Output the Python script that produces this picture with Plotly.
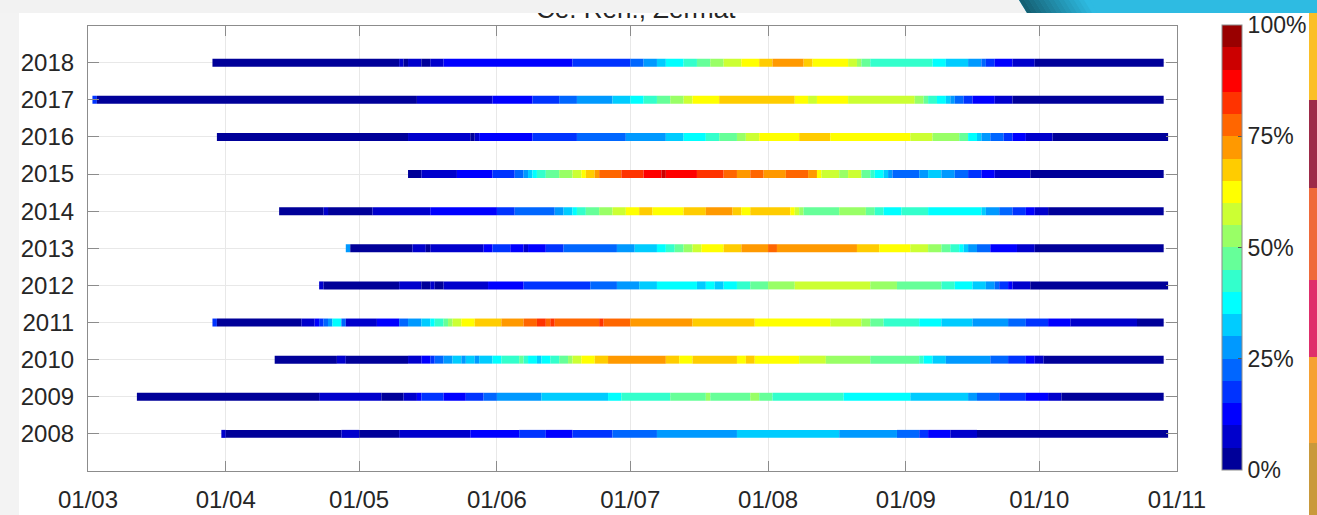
import plotly.graph_objects as go

# ---------------- data (days counted from 1 March; values in % ) ----------------
years = [2008, 2009, 2010, 2011, 2012, 2013, 2014, 2015, 2016, 2017, 2018]

y2018_start = [28, 70, 71, 72, 75, 77, 80, 109, 122, 125, 128, 130, 134, 137, 140, 143, 147, 151, 154, 161,
               163, 171, 173, 174, 176, 190, 193, 198, 201, 202, 204, 208, 213]
y2018_pct = [3, 8, 3, 8, 3, 8, 13, 18, 23, 28, 33, 38, 43, 48, 53, 58, 63, 68, 73, 68,
             63, 58, 53, 48, 43, 38, 33, 28, 23, 18, 13, 8, 3]
y2018_end = 242

y2017_start = [1, 2, 74, 91, 100, 106, 110, 118, 122, 125, 128, 131, 134, 136, 142, 159, 162, 164, 171, 186,
               188, 189, 191, 193, 194, 195, 197, 199, 204, 208]
y2017_pct = [18, 3, 8, 13, 18, 23, 28, 33, 38, 43, 48, 53, 58, 63, 68, 63, 58, 63, 58, 53,
             48, 43, 38, 33, 28, 23, 18, 13, 8, 3]
y2017_end = 242

y2016_start = [29, 72, 86, 87, 88, 100, 110, 121, 130, 134, 139, 142, 146, 148, 151, 160, 167, 185, 190, 196,
               198, 200, 201, 203, 206, 208, 211, 217]
y2016_pct = [3, 8, 3, 8, 13, 18, 23, 28, 33, 38, 43, 48, 53, 58, 63, 68, 63, 58, 53, 48,
             38, 33, 28, 23, 18, 13, 8, 3]
y2016_end = 243

y2015_start = [72, 75, 83, 91, 96, 98, 99, 100, 101, 103, 106, 109, 111, 112, 114, 115, 120, 125, 129, 130,
               137, 143, 146, 149, 152, 157, 162, 164, 165, 169, 171, 174, 176, 177, 179, 180, 181, 187, 189, 192,
               195, 198, 201, 204, 212]
y2015_pct = [3, 8, 13, 18, 23, 28, 33, 38, 43, 48, 53, 58, 63, 68, 73, 78, 83, 88, 93, 88,
             83, 78, 73, 78, 73, 78, 73, 63, 58, 53, 58, 48, 43, 38, 33, 28, 23, 28, 33, 28,
             23, 18, 13, 8, 3]
y2015_end = 242

y2014_start = [43, 53, 54, 64, 77, 92, 96, 105, 107, 109, 110, 112, 115, 118, 121, 124, 127, 134, 139, 145,
               147, 149, 158, 159, 160, 161, 169, 175, 177, 179, 183, 189, 201, 202, 205, 208, 211, 213, 216]
y2014_pct = [3, 8, 3, 8, 13, 18, 23, 28, 33, 38, 43, 48, 53, 58, 63, 68, 63, 68, 73, 68,
             63, 68, 63, 58, 53, 48, 53, 48, 43, 38, 43, 38, 33, 28, 23, 18, 13, 8, 3]
y2014_end = 242

y2013_start = [58, 59, 73, 76, 77, 89, 91, 95, 98, 99, 103, 107, 119, 123, 128, 130, 132, 134, 136, 138,
               143, 147, 153, 155, 173, 178, 185, 189, 192, 194, 196, 197, 198, 200, 203, 209, 213]
y2013_pct = [28, 3, 8, 3, 8, 13, 18, 13, 8, 13, 18, 23, 28, 33, 38, 43, 48, 53, 58, 63,
             68, 73, 78, 73, 68, 63, 58, 53, 48, 43, 38, 33, 28, 23, 13, 8, 3]
y2013_end = 242

y2012_start = [52, 53, 70, 75, 77, 78, 80, 90, 98, 113, 119, 124, 128, 137, 139, 141, 143, 146, 149, 153,
               159, 176, 182, 192, 195, 199, 202, 204, 205, 207, 208, 212]
y2012_pct = [8, 3, 8, 3, 8, 3, 8, 13, 18, 23, 28, 33, 38, 33, 38, 33, 38, 43, 48, 53,
             58, 53, 48, 43, 38, 33, 28, 23, 18, 13, 8, 3]
y2012_end = 243

y2011_start = [28, 29, 48, 51, 52, 53, 54, 55, 57, 58, 65, 70, 72, 75, 77, 78, 80, 81, 82, 84,
               87, 93, 98, 101, 103, 104, 105, 115, 116, 122, 136, 150, 167, 174, 176, 179, 187, 192, 199, 207,
               211, 216, 221, 236]
y2011_pct = [18, 3, 8, 13, 18, 23, 28, 38, 23, 8, 13, 23, 28, 33, 38, 43, 48, 53, 58, 63,
             68, 73, 78, 83, 78, 83, 78, 83, 78, 73, 68, 63, 58, 53, 48, 43, 38, 33, 28, 23,
             18, 13, 8, 3]
y2011_end = 242

y2010_start = [42, 56, 58, 72, 75, 77, 78, 80, 82, 84, 85, 87, 88, 91, 93, 97, 98, 99, 101, 102,
               104, 106, 108, 109, 111, 114, 117, 130, 133, 136, 146, 148, 150, 160, 166, 176, 187, 188, 190, 193,
               203, 207, 211, 213, 215]
y2010_pct = [3, 8, 3, 8, 13, 18, 23, 28, 33, 28, 33, 28, 33, 38, 43, 48, 43, 38, 33, 38,
             43, 48, 53, 58, 63, 68, 73, 68, 63, 68, 63, 68, 63, 58, 53, 48, 43, 38, 33, 28,
             23, 18, 13, 8, 3]
y2010_end = 242

y2009_start = [11, 52, 66, 71, 74, 75, 80, 85, 89, 92, 102, 117, 120, 131, 139, 140, 149, 151, 154, 170,
               185, 198, 200, 205, 211, 216, 219]
y2009_pct = [3, 8, 3, 8, 13, 18, 13, 18, 23, 28, 33, 38, 43, 48, 53, 48, 53, 48, 43, 38,
             33, 28, 23, 18, 13, 8, 3]
y2009_end = 242

y2008_start = [30, 31, 57, 61, 70, 86, 97, 103, 109, 118, 128, 146, 169, 182, 187, 189, 194, 200]
y2008_pct = [8, 3, 8, 3, 8, 13, 18, 13, 18, 23, 28, 33, 28, 23, 18, 13, 8, 3]
y2008_end = 243

month_ticks = [0, 31, 61, 92, 122, 153, 184, 214, 245]
month_labels = ["01/03", "01/04", "01/05", "01/06", "01/07", "01/08", "01/09", "01/10", "01/11"]
pct_ticks = [0, 25, 50, 75, 100]
pct_labels = ["0%", "25%", "50%", "75%", "100%"]
title_text = "Ce. Ren., Zermat"

jet20 = ["#000099", "#0000cc", "#0000ff", "#0033ff", "#0066ff", "#0099ff", "#00ccff", "#00ffff",
         "#33ffcc", "#66ff99", "#99ff66", "#ccff33", "#ffff00", "#ffcc00", "#ff9900", "#ff6600",
         "#ff3300", "#ff0000", "#cc0000", "#990000"]

series = [
    (2008, y2008_start, y2008_pct, y2008_end),
    (2009, y2009_start, y2009_pct, y2009_end),
    (2010, y2010_start, y2010_pct, y2010_end),
    (2011, y2011_start, y2011_pct, y2011_end),
    (2012, y2012_start, y2012_pct, y2012_end),
    (2013, y2013_start, y2013_pct, y2013_end),
    (2014, y2014_start, y2014_pct, y2014_end),
    (2015, y2015_start, y2015_pct, y2015_end),
    (2016, y2016_start, y2016_pct, y2016_end),
    (2017, y2017_start, y2017_pct, y2017_end),
    (2018, y2018_start, y2018_pct, y2018_end),
]

# ---------------- styling ----------------
FONT = "Liberation Sans, Arial, Helvetica, sans-serif"
AX = "#8c8c8c"
GRID = "#e8e8e8"
TXT = "#262626"
W, H = 1317, 515
ML, MR, MT, MB = 88, 140, 13, 44
PW, PH = W - ML - MR, H - MT - MB
MAIN_TOP = (H - MB - 25.6) / PH


def px(x):
    return (x - ML) / PW


def py(y):
    return (H - MB - y) / PH


colorscale = []
n = len(jet20)
for i, c in enumerate(jet20):
    colorscale.append([i / n, c])
    colorscale.append([(i + 1) / n, c])

fig = go.Figure()

for yr, starts, pcts, end in series:
    assert len(starts) == len(pcts)
    bounds = list(starts) + [end]
    widths = [b - a for a, b in zip(bounds[:-1], bounds[1:])]
    fig.add_trace(go.Bar(
        orientation="h",
        y=[yr] * len(starts),
        x=widths,
        base=starts,
        width=0.215,
        marker=dict(color=pcts, coloraxis="coloraxis", line=dict(width=0)),
        showlegend=False,
        hovertemplate="%{y}: %{marker.color}%<extra></extra>",
    ))

# title (its upper half sits under the slide band, as in the reference)
fig.add_trace(go.Scatter(
    x=[0.503], y=[1.15], mode="text", text=[title_text],
    textfont=dict(size=26, color=TXT, family=FONT),
    xaxis="x2", yaxis="y2", cliponaxis=True, showlegend=False, hoverinfo="skip",
))

shapes = []
# slide background decorations (band drawn above the title trace)
shapes.append(dict(type="rect", xref="paper", yref="paper", x0=px(0), x1=px(W), y0=py(13), y1=py(-2),
                   fillcolor="#f2f2f2", line=dict(width=0), layer="above"))
shapes.append(dict(type="rect", xref="paper", yref="paper", x0=px(0), x1=px(19), y0=py(H), y1=py(0),
                   fillcolor="#f3f3f3", line=dict(width=0), layer="below"))
# teal gradient band top-right
c0 = (0x15, 0x60, 0x73)
c1 = (0x2e, 0xbb, 0xe2)
shapes.append(dict(type="path", xref="paper", yref="paper",
                   path=f"M{px(1019)},{py(0)} L{px(W)},{py(0)} L{px(W)},{py(13)} L{px(1027)},{py(13)} Z",
                   fillcolor="#2ebbe2", line=dict(width=0), layer="above"))
steps = 14
for k in range(steps):
    t = k / (steps - 1)
    col = "rgb(%d,%d,%d)" % tuple(round(a + (b - a) * t) for a, b in zip(c0, c1))
    xa = 1019 + k * 5
    xb = xa + 5.5
    shapes.append(dict(type="path", xref="paper", yref="paper",
                       path=f"M{px(xa)},{py(0)} L{px(xb)},{py(0)} L{px(xb + 8)},{py(13)} L{px(xa + 8)},{py(13)} Z",
                       fillcolor=col, line=dict(width=0), layer="above"))
# right edge coloured stripes
stripe_cols = [(13, 100, "#fbbf27"), (100, 188, "#9d2a48"), (188, 280, "#ef6a3a"),
               (280, 357, "#df2e6b"), (357, 443, "#f6a133"), (443, 515, "#c9993b")]
for y0, y1, col in stripe_cols:
    shapes.append(dict(type="rect", xref="paper", yref="paper", x0=px(1309), x1=px(W),
                       y0=py(y1), y1=py(y0), fillcolor=col, line=dict(width=0), layer="above"))

fig.update_layout(
    width=W, height=H,
    margin=dict(l=ML, r=MR, t=MT, b=MB, pad=0, autoexpand=False),
    paper_bgcolor="white", plot_bgcolor="white",
    barmode="overlay",
    font=dict(family=FONT, color=TXT),
    xaxis=dict(
        range=[0, 245], tickmode="array", tickvals=month_ticks, ticktext=month_labels,
        ticks="inside", ticklen=10, tickwidth=1.2, tickcolor=AX,
        showline=True, linecolor=AX, linewidth=1.2, mirror="ticks",
        showgrid=True, gridcolor=GRID, gridwidth=1, zeroline=False, automargin=False,
        tickfont=dict(size=24, color=TXT, family=FONT), ticklabelstandoff=7,
    ),
    yaxis=dict(
        range=[2007, 2019], domain=[0, MAIN_TOP], tickmode="array", tickvals=years,
        ticktext=[str(y) for y in years],
        ticks="inside", ticklen=11, tickwidth=1.2, tickcolor=AX,
        showline=True, linecolor=AX, linewidth=1.2, mirror="ticks",
        showgrid=True, gridcolor=GRID, gridwidth=1, zeroline=False, automargin=False,
        tickfont=dict(size=24, color=TXT, family=FONT), ticklabelstandoff=8,
    ),
    xaxis2=dict(domain=[0, 1], range=[0, 1], visible=False, anchor="y2", fixedrange=True, automargin=False),
    yaxis2=dict(domain=[MAIN_TOP, 1], range=[0, 1], visible=False, anchor="x2", fixedrange=True, automargin=False),
    coloraxis=dict(
        colorscale=colorscale, cmin=0, cmax=100,
        colorbar=dict(
            thickness=20, thicknessmode="pixels", len=445, lenmode="pixels",
            x=px(1221.7), xanchor="left", y=py(247.5), yanchor="middle",
            xpad=0, ypad=0, outlinewidth=1, outlinecolor=AX,
            tickmode="array", tickvals=pct_ticks, ticktext=pct_labels,
            ticks="inside", ticklen=4, tickcolor="#555555", tickwidth=1,
            tickfont=dict(size=23, color=TXT, family=FONT),
        ),
    ),
    shapes=shapes,
)

fig.write_html(
    "out.html",
    config={"displayModeBar": False},
    post_script="document.body.style.margin='0px';document.body.style.padding='0px';",
)
